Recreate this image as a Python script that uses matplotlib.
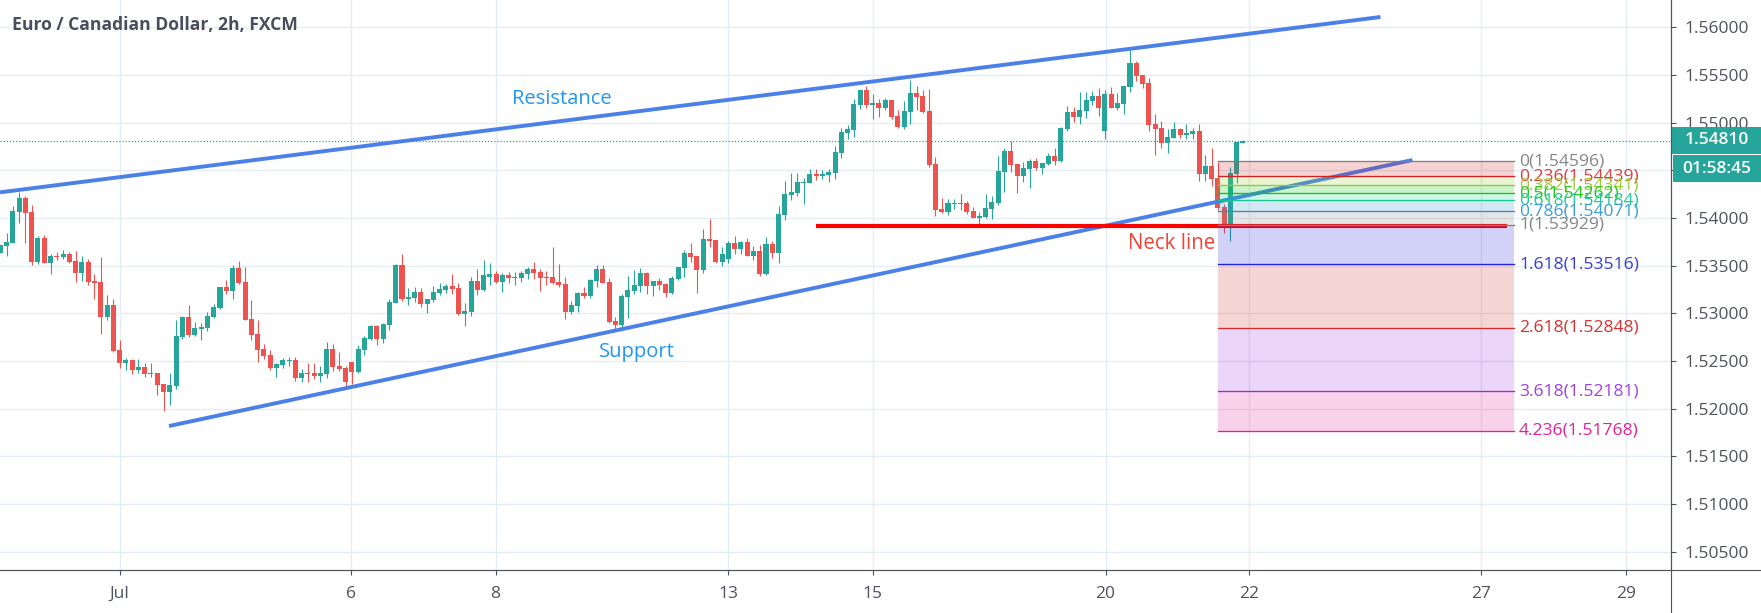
import matplotlib
matplotlib.use('Agg')
import matplotlib.pyplot as plt
from matplotlib.lines import Line2D
from matplotlib.patches import Rectangle

plt.rcParams['font.family'] = ['Open Sans', 'DejaVu Sans']

# candles (2h bars, index = bar number)
opens = [1.53633,1.53707,1.53738,1.54063,1.54207,1.54060,1.53539,1.53787,1.53528,1.53605,
1.53591,1.53619,1.53546,1.53423,1.53535,1.53336,1.53326,1.52962,1.53084,1.52612,
1.52480,1.52507,1.52406,1.52434,1.52361,1.52371,1.52256,1.52175,1.52238,1.52752,
1.52958,1.52770,1.52833,1.52843,1.52958,1.53056,1.53273,1.53231,1.53472,1.53326,
1.52938,1.52780,1.52623,1.52560,1.52424,1.52455,1.52497,1.52507,1.52319,1.52371,
1.52371,1.52340,1.52361,1.52623,1.52445,1.52424,1.52487,1.52382,1.52612,1.52728,
1.52864,1.52728,1.52875,1.53105,1.53504,1.53147,1.53158,1.53221,1.53095,1.53137,
1.53210,1.53242,1.53284,1.53263,1.52990,1.53011,1.53336,1.53242,1.53378,1.53409,
1.53326,1.53399,1.53368,1.53368,1.53409,1.53462,1.53430,1.53378,1.53378,1.53326,
1.53305,1.53011,1.53074,1.53210,1.53179,1.53336,1.53462,1.53326,1.52917,1.52875,
1.53168,1.53231,1.53284,1.53420,1.53284,1.53336,1.53305,1.53210,1.53357,1.53472,
1.53630,1.53598,1.53451,1.53777,1.53766,1.53535,1.53567,1.53735,1.53672,1.53745,
1.53598,1.53651,1.53409,1.53724,1.53630,1.54028,1.54238,1.54259,1.54364,1.54364,
1.54458,1.54437,1.54448,1.54469,1.54679,1.54888,1.54920,1.55182,1.55339,1.55182,
1.55203,1.55150,1.55234,1.55067,1.54951,1.55109,1.55308,1.55276,1.55119,1.54563,
1.54091,1.54060,1.54144,1.54154,1.54154,1.54070,1.53997,1.54007,1.54091,1.54154,
1.54479,1.54700,1.54563,1.54437,1.54511,1.54595,1.54521,1.54563,1.54647,1.54595,
1.54930,1.55109,1.55056,1.55119,1.55224,1.55276,1.54909,1.55297,1.55150,1.55192,
1.55371,1.55622,1.55497,1.55413,1.54983,1.54941,1.54783,1.54836,1.54930,1.54867,
1.54878,1.54909,1.54458,1.54542,1.54416,1.54112,1.53913,1.54458,1.54783]
highs = [1.53721,1.53846,1.54123,1.54273,1.54228,1.54133,1.53808,1.53819,1.53626,1.53640,
1.53661,1.53640,1.53651,1.53605,1.53567,1.53409,1.53588,1.53189,1.53147,1.52717,
1.52528,1.52518,1.52518,1.52476,1.52476,1.52371,1.52263,1.52371,1.52927,1.52969,
1.53084,1.52906,1.52896,1.53011,1.53095,1.53273,1.53347,1.53504,1.53546,1.53483,
1.53137,1.52927,1.52675,1.52612,1.52476,1.52528,1.52539,1.52539,1.52413,1.52476,
1.52476,1.52445,1.52696,1.52675,1.52591,1.52445,1.52487,1.52665,1.52759,1.52875,
1.52875,1.52896,1.53147,1.53514,1.53619,1.53263,1.53273,1.53263,1.53147,1.53284,
1.53315,1.53305,1.53409,1.53315,1.53105,1.53378,1.53462,1.53556,1.53525,1.53441,
1.53420,1.53430,1.53430,1.53441,1.53483,1.53535,1.53462,1.53441,1.53693,1.53514,
1.53378,1.53126,1.53221,1.53273,1.53357,1.53504,1.53504,1.53368,1.52958,1.53200,
1.53389,1.53451,1.53472,1.53430,1.53336,1.53368,1.53315,1.53389,1.53483,1.53661,
1.53735,1.53598,1.53881,1.53986,1.53766,1.53693,1.53756,1.53808,1.53756,1.53787,
1.53703,1.53714,1.53798,1.53756,1.54123,1.54385,1.54469,1.54469,1.54416,1.54511,
1.54511,1.54500,1.54511,1.54752,1.54941,1.54972,1.55245,1.55339,1.55381,1.55297,
1.55245,1.55255,1.55234,1.55130,1.55224,1.55444,1.55381,1.55339,1.55350,1.54637,
1.54207,1.54196,1.54196,1.54249,1.54175,1.54112,1.54060,1.54249,1.54228,1.54647,
1.54731,1.54804,1.54563,1.54584,1.54616,1.54626,1.54574,1.54679,1.54731,1.54951,
1.55171,1.55161,1.55318,1.55318,1.55329,1.55360,1.55339,1.55371,1.55308,1.55381,
1.55759,1.55643,1.55497,1.55465,1.55088,1.55014,1.54930,1.55004,1.54941,1.54983,
1.54941,1.54983,1.54658,1.54731,1.54584,1.54144,1.54532,1.54794,1.54815]
lows = [1.53633,1.53602,1.53738,1.53948,1.53738,1.53507,1.53518,1.53528,1.53413,1.53560,
1.53570,1.53528,1.53329,1.53340,1.53298,1.53151,1.52784,1.52930,1.52595,1.52427,
1.52406,1.52364,1.52375,1.52333,1.52333,1.52144,1.51976,1.52039,1.52207,1.52731,
1.52752,1.52759,1.52721,1.52812,1.52951,1.53046,1.53203,1.53151,1.53305,1.52927,
1.52721,1.52490,1.52518,1.52406,1.52333,1.52427,1.52448,1.52291,1.52280,1.52280,
1.52312,1.52280,1.52322,1.52396,1.52396,1.52228,1.52256,1.52375,1.52564,1.52717,
1.52665,1.52686,1.52822,1.53105,1.53126,1.53084,1.53116,1.53063,1.53000,1.53116,
1.53189,1.53210,1.53203,1.52980,1.52868,1.52969,1.53189,1.53235,1.53294,1.53315,
1.53221,1.53315,1.53294,1.53326,1.53357,1.53357,1.53231,1.53294,1.53305,1.53273,
1.52938,1.52990,1.53011,1.53158,1.53158,1.53273,1.53315,1.52896,1.52822,1.52843,
1.52948,1.53200,1.53221,1.53200,1.53179,1.53242,1.53168,1.53200,1.53347,1.53378,
1.53535,1.53210,1.53420,1.53693,1.53525,1.53493,1.53525,1.53619,1.53619,1.53598,
1.53556,1.53389,1.53399,1.53577,1.53525,1.53976,1.54186,1.54228,1.54144,1.54364,
1.54395,1.54406,1.54374,1.54406,1.54626,1.54825,1.54846,1.55140,1.55150,1.55035,
1.55056,1.55130,1.55035,1.54941,1.54930,1.54983,1.55130,1.55098,1.54532,1.54018,
1.54049,1.54028,1.54091,1.54081,1.54039,1.53997,1.53923,1.53997,1.53986,1.54133,
1.54270,1.54479,1.54259,1.54374,1.54311,1.54500,1.54458,1.54553,1.54553,1.54584,
1.54909,1.55004,1.54983,1.55046,1.55182,1.55067,1.54825,1.55150,1.55130,1.55088,
1.55318,1.55434,1.55360,1.54909,1.54658,1.54731,1.54679,1.54836,1.54836,1.54825,
1.54825,1.54385,1.54385,1.54332,1.54081,1.53839,1.53756,1.54364,1.54783]
closes = [1.53714,1.53745,1.54070,1.54207,1.54053,1.53539,1.53787,1.53528,1.53605,1.53591,
1.53619,1.53539,1.53423,1.53535,1.53329,1.53319,1.52962,1.53084,1.52605,1.52480,
1.52507,1.52406,1.52434,1.52364,1.52371,1.52249,1.52175,1.52245,1.52759,1.52958,
1.52770,1.52843,1.52854,1.52969,1.53063,1.53273,1.53231,1.53472,1.53315,1.52927,
1.52770,1.52612,1.52550,1.52424,1.52466,1.52507,1.52507,1.52319,1.52371,1.52361,
1.52340,1.52371,1.52623,1.52434,1.52413,1.52277,1.52382,1.52623,1.52738,1.52864,
1.52728,1.52885,1.53116,1.53504,1.53147,1.53168,1.53221,1.53095,1.53147,1.53221,
1.53252,1.53284,1.53256,1.52990,1.53021,1.53336,1.53242,1.53399,1.53409,1.53326,
1.53399,1.53368,1.53378,1.53420,1.53462,1.53420,1.53368,1.53368,1.53315,1.53294,
1.53011,1.53084,1.53210,1.53179,1.53347,1.53462,1.53315,1.52906,1.52875,1.53179,
1.53242,1.53294,1.53420,1.53284,1.53336,1.53294,1.53210,1.53368,1.53483,1.53630,
1.53588,1.53451,1.53777,1.53756,1.53535,1.53619,1.53735,1.53672,1.53745,1.53598,
1.53651,1.53409,1.53724,1.53630,1.54039,1.54249,1.54270,1.54374,1.54374,1.54458,
1.54437,1.54458,1.54479,1.54689,1.54899,1.54930,1.55192,1.55339,1.55182,1.55203,
1.55150,1.55234,1.55056,1.54951,1.55119,1.55308,1.55266,1.55109,1.54553,1.54081,
1.54060,1.54154,1.54154,1.54144,1.54060,1.53997,1.54018,1.54102,1.54165,1.54490,
1.54700,1.54553,1.54437,1.54521,1.54595,1.54521,1.54574,1.54647,1.54595,1.54941,
1.55109,1.55056,1.55130,1.55234,1.55276,1.55150,1.55297,1.55150,1.55203,1.55381,
1.55622,1.55486,1.55402,1.54972,1.54930,1.54783,1.54846,1.54930,1.54867,1.54888,
1.54909,1.54458,1.54542,1.54406,1.54102,1.53913,1.54469,1.54794,1.54810]

# price axis and dates
price_ticks = [1.505,1.51,1.515,1.52,1.525,1.53,1.535,1.54,1.545,1.55,1.555,1.56]
date_ticks = [19,55.9,78.9,116,139,176.1,199,236,259]
date_labels = ['Jul','6','8','13','15','20','22','27','29']
last_price = 1.5481
countdown = '01:58:45'

# fibonacci tool
fib_ratios = ['0','0.236','0.382','0.5','0.618','0.786','1','1.618','2.618','3.618','4.236']
fib_prices = [1.54596,1.54439,1.54341,1.54262,1.54184,1.54071,1.53929,1.53516,1.52848,1.52181,1.51768]
fib_line_colors = ['#808080','#d32020','#96c832','#10c810','#14cc90','#2e90c8','#808080','#2020e0','#d32f2f','#9b30d0','#e0209a']
fib_text_colors = ['#868686','#e03c3c','#a0cc3c','#20c820','#20cc9c','#3c9cd8','#868686','#3c3cd0','#d83030','#a040dc','#e0209a']
fib_fill_colors = ['#d32020','#8fcc20','#00cc00','#12cf8f','#2a90c8','#808080','#2020e0','#d32f2f','#9b30e0','#e0209a']
fib_start, fib_end = 194.05, 241.15

# hand drawn lines (bar, price)
resistance_x, resistance_y = [-0.05,219.9], [1.54269,1.56108]
support_x, support_y = [26.88,225.0], [1.51818,1.54608]
neck_x, neck_y = [129.94,240.05], [1.53913,1.53913]

GREEN = '#26a69a'
RED = '#ef5350'
AXIS = '#50535e'
GRID = '#e3edf3'
W, H = 1761, 613

fig = plt.figure(figsize=(W/100, H/100), dpi=100)
ax = fig.add_axes([0, (H-570)/H, 1671/W, 570/H])
ax.set_xlim(-0.053, 266.2)
ax.set_ylim(1.503081, 1.562863)

ax.set_xticks(date_ticks)
ax.set_xticklabels(date_labels)
ax.set_yticks(price_ticks)
ax.set_yticklabels(['%.5f' % p for p in price_ticks])
ax.yaxis.tick_right()
ax.grid(True, color=GRID, lw=1.0)
ax.set_axisbelow(True)
ax.tick_params(axis='x', length=3.5, width=0.8, color=AXIS, labelcolor=AXIS, labelsize=12.5, pad=8)
ax.tick_params(axis='y', length=3.5, width=0.8, color=AXIS, labelcolor=AXIS, labelsize=12.5, pad=6.5)
ax.spines['top'].set_visible(False)
ax.spines['left'].set_visible(False)
ax.spines['right'].set_color(AXIS)
ax.spines['bottom'].set_color(AXIS)

# candles
for i in range(len(opens)):
    color = GREEN if closes[i] >= opens[i] else RED
    ax.vlines(i, lows[i], highs[i], color=color, lw=0.8, zorder=3)
    ax.bar(i, abs(closes[i]-opens[i]), bottom=min(opens[i], closes[i]), width=0.8, color=color, lw=0, zorder=3)

ax.axhline(last_price, color=GREEN, lw=0.9, ls=(0, (1, 1.5)), zorder=4)

# trend lines
ax.plot(resistance_x, resistance_y, color='#4a80e8', lw=2.8, solid_capstyle='butt', zorder=5)
ax.plot(support_x, support_y, color='#4a80e8', lw=2.8, solid_capstyle='butt', zorder=5)
ax.plot(neck_x, neck_y, color='#ff0000', lw=3, solid_capstyle='butt', zorder=5)

# fib fills + levels
for k in range(len(fib_fill_colors)):
    ax.fill_between([fib_start, fib_end], fib_prices[k+1], fib_prices[k], color=fib_fill_colors[k], alpha=0.2, lw=0, zorder=6)
for k in range(len(fib_prices)):
    ax.plot([fib_start, fib_end], [fib_prices[k]]*2, color=fib_line_colors[k], lw=0.95, zorder=7)
    ax.text(242.0, fib_prices[k], '%s(%.5f)' % (fib_ratios[k], fib_prices[k]), color=fib_text_colors[k],
            fontsize=12.6, va='center', ha='left', zorder=8)

ax.text(89.4, 1.55248, 'Resistance', color='#2196f3', fontsize=14.5, ha='center', va='center', zorder=8)
ax.text(101.4, 1.52597, 'Support', color='#2196f3', fontsize=14.5, ha='center', va='center', zorder=8)
ax.text(186.7, 1.53735, 'Neck line', color='#f44336', fontsize=14.8, ha='center', va='center', zorder=8)

# title and things outside the plot, in figure pixels
fig.text(12.5/W, 1-25/H, 'Euro / Canadian Dollar, 2h, FXCM', color='#4a4e5c', fontsize=12.65,
         fontweight='bold', ha='left', va='center')
fig.add_artist(Line2D([0, 1], [(H-570)/H]*2, color=AXIS, lw=0.8))
fig.add_artist(Line2D([1671/W]*2, [0, 1], color=AXIS, lw=0.8))
fig.add_artist(Rectangle((1672/W, 1-154/H), 89/W, 26.7/H, color=GREEN, lw=0, transform=fig.transFigure))
fig.add_artist(Rectangle((1673/W, 1-181.7/H), 88/W, 26.7/H, color=GREEN, lw=0, transform=fig.transFigure))
fig.text(1717/W, 1-140.5/H, '%.5f' % last_price, color='white', fontsize=12.5, fontweight='semibold', ha='center', va='center')
fig.text(1717/W, 1-168.5/H, countdown, color='white', fontsize=12.5, fontweight='semibold', ha='center', va='center')

fig.savefig('out.png', dpi=100)
